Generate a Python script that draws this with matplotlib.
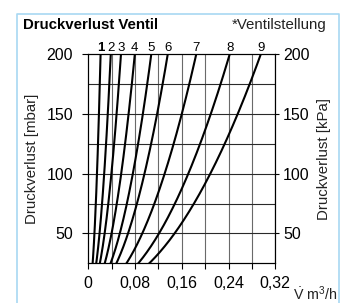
#### Druckverlust Ventil - kv curves

import numpy as np
import matplotlib.pyplot as plt
from matplotlib.lines import Line2D

## Global Setting

plt.rcParams['font.family'] = ['Liberation Sans', 'DejaVu Sans']
plt.rcParams['font.size'] = 10.8
plt.rcParams['mathtext.fontset'] = 'custom'
plt.rcParams['mathtext.rm'] = 'Liberation Sans'

## Data (kv per Ventilstellung)

positions = ['1', '2', '3', '4', '5', '6', '7', '8', '9']
kv_values = [0.047, 0.086, 0.125, 0.178, 0.241, 0.304, 0.413, 0.541, 0.660]

x_ticks = [0, 0.08, 0.16, 0.24, 0.32]
x_ticklabels = ['0', '0,08', '0,16', '0,24', '0,32']
y_ticks = [50, 100, 150, 200]
y_ticklabels = ['50', '100', '150', '200']

## Plot Statement

W, H = 346, 303
fig = plt.figure(figsize=(W / 100, H / 100), dpi=100)
ax = fig.add_axes([88.3 / W, 1 - 263.3 / H, 187.0 / W, 209.0 / H])

ax.set_xlim(0, 0.32)
ax.set_ylim(25, 200)

# grid
for gx in np.arange(0.04, 0.32, 0.04):
    ax.axvline(gx, color='#6a6a6a', lw=0.8, zorder=1)
for gy in np.arange(50, 200, 25):
    ax.axhline(gy, color='#2a2a2a', lw=0.8, zorder=1)

# curves: dp [mbar] = (V/kv)^2 * 1000
v = np.linspace(0, 0.32, 400)
for name, kv in zip(positions, kv_values):
    ax.plot(v, (v / kv) ** 2 * 1000, color='black', lw=1.5, zorder=3)
    v_top = kv * np.sqrt(0.2)
    ax.annotate(name, (v_top, 200), xytext=(0, 0.3), textcoords='offset points',
                ha='center', va='bottom', fontsize=9.5,
                fontweight='bold' if name == '1' else 'normal',
                annotation_clip=False)

for s in ax.spines.values():
    s.set_linewidth(0.8)

ax.set_xticks(x_ticks)
ax.set_xticklabels(x_ticklabels)
ax.set_xticks(np.arange(0.04, 0.32, 0.08), minor=True)
ax.set_yticks(y_ticks)
ax.set_yticklabels(y_ticklabels)
ax.tick_params(axis='x', which='both', direction='out', length=4, width=0.8,
               labelsize=11.5, pad=5)
ax.tick_params(axis='y', direction='out', length=4, width=0.8, labelsize=11.5, pad=7)
ax.set_ylabel('Druckverlust [mbar]', fontsize=10.8, color='#222222')
ax.yaxis.set_label_coords(-0.262, 0.5)

ax2 = ax.twinx()
ax2.set_ylim(25, 200)
ax2.set_yticks(y_ticks)
ax2.set_yticklabels(y_ticklabels)
ax2.tick_params(direction='out', length=3, width=0.8, labelsize=11.5, pad=2.5)
ax2.set_ylabel('Druckverlust [kPa]', fontsize=10.8, color='#222222')
ax2.yaxis.set_label_coords(1.225, 0.5)
for s in ax2.spines.values():
    s.set_linewidth(0.8)

## Title and texts

fig.text(23 / W, 1 - 25 / H, 'Druckverlust Ventil', fontsize=10.8,
         fontweight='bold', ha='left', va='center')
fig.text(326 / W, 1 - 25 / H, '*Ventilstellung', fontsize=10.8,
         ha='right', va='center', color='#222222')
fig.text(337 / W, 1 - 294 / H, r'$\dot{\mathrm{V}}$ m$^3$/h', fontsize=10.3,
         ha='right', va='center', color='#222222')

## Frame

frame_x = np.array([16.5, 16.5, 339.3, 339.3]) / W
frame_y = 1 - np.array([H, 14.0, 14.0, H]) / H
fig.add_artist(Line2D(frame_x, frame_y, color='#a8d8f2', lw=1.2))

## Figure Output

fig.savefig('out.png', dpi=100)
